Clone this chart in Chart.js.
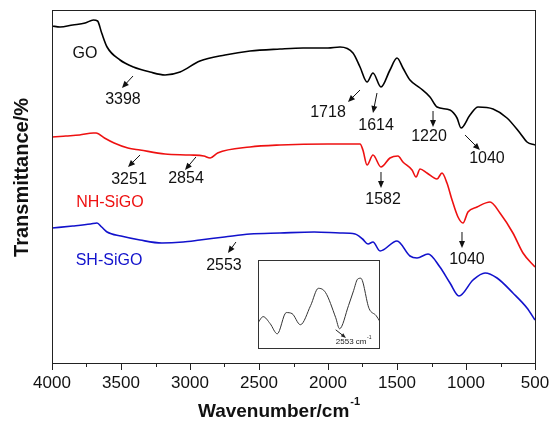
<!DOCTYPE html>
<html>
<head>
<meta charset="utf-8">
<script src="https://cdn.jsdelivr.net/npm/chart.js@4.4.0/dist/chart.umd.min.js"></script>
<style>
  body { margin: 0; background: #fff; }
  #wrap { position: relative; width: 553px; height: 426px; }
  #ftir { position: absolute; left: 0; top: 0; }
  #inset { position: absolute; left: 258px; top: 260px; }
</style>
</head>
<body>
<div id="wrap">
  <canvas id="ftir" width="553" height="426"></canvas>
  <canvas id="inset" width="122" height="89"></canvas>
</div>
<script>
// FTIR spectra, wavenumber (cm-1) against transmittance (arbitrary offset units)
const goWavenumber = [4000, 3942, 3850, 3760, 3700, 3670, 3640, 3601, 3507, 3410, 3290, 3181, 3072, 2928, 2746, 2565, 2348, 2181, 2000, 1913, 1819, 1768, 1717, 1674, 1616, 1551, 1500, 1457, 1406, 1333, 1261, 1210, 1116, 1065, 1036, 971, 913, 804, 703, 609, 558, 500];
const goT = [337, 336, 338, 340, 343, 342, 330, 316, 303, 296, 291, 288, 291, 302, 308, 312, 314, 315, 315, 316, 310, 296, 281, 290, 276, 293, 305, 295, 283, 275, 266, 256, 253, 245, 235, 248, 256, 254, 245, 230, 221, 218];

const nhWavenumber = [4000, 3900, 3800, 3700, 3680, 3620, 3550, 3450, 3362, 3181, 3000, 2900, 2854, 2800, 2565, 2348, 2000, 1913, 1768, 1747, 1717, 1674, 1616, 1551, 1493, 1457, 1391, 1362, 1333, 1283, 1210, 1174, 1138, 1101, 1058, 1022, 986, 920, 826, 754, 660, 587, 500];
const nhT = [226, 227, 228, 230, 230, 225, 220, 215, 213, 209, 208, 207, 205, 210, 216, 218, 219, 219, 219, 213, 198, 208, 196, 205, 207, 201, 193, 186, 194, 190, 184, 190, 180, 163, 146, 140, 151, 156, 161, 150, 130, 110, 96];

const shWavenumber = [4000, 3850, 3720, 3674, 3640, 3601, 3500, 3362, 3203, 3050, 2928, 2750, 2565, 2348, 2100, 1913, 1804, 1750, 1710, 1674, 1623, 1500, 1406, 1355, 1275, 1189, 1116, 1051, 949, 862, 775, 660, 558, 500];
const shT = [135, 137, 139, 140, 136, 131, 127, 123, 120, 121, 123, 126, 129, 130, 131, 130, 129, 124, 119, 121, 112, 122, 107, 105, 109, 96, 80, 67, 83, 90, 85, 70, 55, 43];

// zoomed S-H stretch region shown in the inset
const insetWavenumber = [2680, 2672, 2661, 2650, 2636, 2627, 2614, 2598, 2586, 2575, 2559, 2553, 2539, 2531, 2525, 2520, 2507, 2496, 2490];
const insetT = [26, 32, 25, 15, 36, 35, 24, 43, 60, 56, 31, 20, 43, 58, 69, 70, 40, 33, 27];

const xTicks = [4000, 3500, 3000, 2500, 2000, 1500, 1000, 500];
const xMinorTicks = [3750, 3250, 2750, 2250, 1750, 1250, 750];

const seriesNames = ['GO', 'NH-SiGO', 'SH-SiGO'];
const seriesColors = ['#000000', '#ee1111', '#1212cc'];

// peak labels: text position and arrow (tail -> head) in wavenumber / transmittance units
const peakNotes = [
  { text: 'GO', at: [3761, 309] },
  { text: 'NH-SiGO', at: [3580, 160], color: seriesColors[1] },
  { text: 'SH-SiGO', at: [3587, 102], color: seriesColors[2] },
  { text: '3398', at: [3486, 263], from: [3413, 287], to: [3493, 275] },
  { text: '3251', at: [3442, 183], from: [3362, 208], to: [3449, 196] },
  { text: '2854', at: [3029, 184], from: [2957, 206], to: [3036, 193] },
  { text: '2553', at: [2754, 97], from: [2667, 121], to: [2725, 110] },
  { text: '1718', at: [2000, 250], from: [1768, 273], to: [1855, 261] },
  { text: '1614', at: [1652, 237], from: [1645, 270], to: [1674, 250] },
  { text: '1220', at: [1268, 226], from: [1239, 252], to: [1239, 236] },
  { text: '1040', at: [848, 204], from: [1007, 228], to: [899, 213] },
  { text: '1582', at: [1601, 163], from: [1616, 191], to: [1616, 175] },
  { text: '1040', at: [993, 103], from: [1029, 131], to: [1029, 115] }
];

const FONT = '"Liberation Sans", Arial, sans-serif';

function toPoints(xs, ys) {
  return xs.map((x, i) => ({ x: x, y: ys[i] }));
}

function drawArrow(ctx, x1, y1, x2, y2, head, width) {
  const a = Math.atan2(y2 - y1, x2 - x1);
  ctx.beginPath();
  ctx.moveTo(x1, y1);
  ctx.lineTo(x2 - Math.cos(a) * head * 0.8, y2 - Math.sin(a) * head * 0.8);
  ctx.stroke();
  ctx.beginPath();
  ctx.moveTo(x2, y2);
  ctx.lineTo(x2 - head * Math.cos(a) + width * Math.sin(a), y2 - head * Math.sin(a) - width * Math.cos(a));
  ctx.lineTo(x2 - head * Math.cos(a) - width * Math.sin(a), y2 - head * Math.sin(a) + width * Math.cos(a));
  ctx.closePath();
  ctx.fill();
}

// box around the plot plus the short minor ticks on the wavenumber axis
const frame = {
  id: 'frame',
  afterDraw(chart) {
    const { ctx, chartArea, scales } = chart;
    ctx.save();
    ctx.strokeStyle = '#222';
    ctx.lineWidth = 1;
    ctx.strokeRect(chartArea.left + 0.5, chartArea.top + 0.5, chartArea.right - chartArea.left, chartArea.bottom - chartArea.top);
    ctx.beginPath();
    xMinorTicks.forEach(v => {
      const x = Math.round(scales.x.getPixelForValue(v)) + 0.5;
      ctx.moveTo(x, chartArea.bottom);
      ctx.lineTo(x, chartArea.bottom + 4);
    });
    ctx.stroke();
    ctx.restore();
  }
};

const notes = {
  id: 'notes',
  afterDatasetsDraw(chart) {
    const { ctx, scales } = chart;
    ctx.save();
    ctx.font = '16px ' + FONT;
    ctx.textAlign = 'center';
    ctx.textBaseline = 'middle';
    ctx.lineWidth = 1;
    peakNotes.forEach(n => {
      const c = n.color || '#111';
      ctx.fillStyle = c;
      ctx.strokeStyle = c;
      ctx.fillText(n.text, scales.x.getPixelForValue(n.at[0]), scales.y.getPixelForValue(n.at[1]));
      if (n.from) {
        drawArrow(ctx,
          scales.x.getPixelForValue(n.from[0]), scales.y.getPixelForValue(n.from[1]),
          scales.x.getPixelForValue(n.to[0]), scales.y.getPixelForValue(n.to[1]), 7, 3);
      }
    });
    ctx.restore();
  }
};

const axisTitles = {
  id: 'axisTitles',
  afterDraw(chart) {
    const { ctx, chartArea } = chart;
    ctx.save();
    ctx.fillStyle = '#111';
    // y title
    ctx.translate(22, (chartArea.top + chartArea.bottom) / 2 - 9);
    ctx.rotate(-Math.PI / 2);
    ctx.font = 'bold 20px ' + FONT;
    ctx.textAlign = 'center';
    ctx.textBaseline = 'middle';
    ctx.fillText('Transmittance/%', 0, 0);
    ctx.setTransform(1, 0, 0, 1, 0, 0);
    // x title with superscript
    const main = 'Wavenumber/cm';
    const sup = '-1';
    ctx.font = 'bold 19px ' + FONT;
    const w = ctx.measureText(main).width;
    ctx.font = 'bold 11px ' + FONT;
    const sw = ctx.measureText(sup).width;
    const cx = (chartArea.left + chartArea.right) / 2 - 15;
    const x0 = cx - (w + sw) / 2;
    ctx.textAlign = 'left';
    ctx.textBaseline = 'alphabetic';
    ctx.font = 'bold 19px ' + FONT;
    ctx.fillText(main, x0, 417);
    ctx.font = 'bold 11px ' + FONT;
    ctx.fillText(sup, x0 + w + 1, 405);
    ctx.restore();
  }
};

new Chart(document.getElementById('ftir'), {
  type: 'line',
  data: {
    datasets: [
      { label: seriesNames[0], data: toPoints(goWavenumber, goT), borderColor: seriesColors[0] },
      { label: seriesNames[1], data: toPoints(nhWavenumber, nhT), borderColor: seriesColors[1] },
      { label: seriesNames[2], data: toPoints(shWavenumber, shT), borderColor: seriesColors[2] }
    ]
  },
  options: {
    responsive: false,
    animation: false,
    layout: { padding: { top: 10, right: 18, left: 0, bottom: 0 } },
    elements: {
      point: { radius: 0 },
      line: { borderWidth: 1.6, cubicInterpolationMode: 'monotone' }
    },
    plugins: { legend: { display: false }, tooltip: { enabled: false } },
    scales: {
      x: {
        type: 'linear',
        reverse: true,
        min: 500,
        max: 4000,
        afterBuildTicks: scale => {
          scale.ticks = xTicks.map(v => ({ value: v }));
        },
        afterFit: scale => { scale.height = 63; },
        ticks: {
          autoSkip: false,
          maxRotation: 0,
          padding: 3,
          color: '#111',
          font: { family: FONT, size: 17 },
          callback: v => String(v)
        },
        grid: {
          drawOnChartArea: false,
          drawTicks: true,
          tickLength: 7,
          tickColor: '#222'
        },
        border: { display: true, color: '#222', width: 1 }
      },
      y: {
        min: 0,
        max: 353,
        afterFit: scale => { scale.width = 52; },
        ticks: { display: false },
        grid: { display: false, drawTicks: false },
        border: { display: true, color: '#222', width: 1 }
      }
    }
  },
  plugins: [frame, notes, axisTitles]
});

// inset: S-H band close-up
const insetNote = {
  id: 'insetNote',
  afterDraw(chart) {
    const { ctx, scales } = chart;
    ctx.save();
    ctx.strokeStyle = '#333';
    ctx.lineWidth = 1;
    ctx.strokeRect(0.5, 0.5, chart.width - 1, chart.height - 1);
    ctx.fillStyle = '#222';
    ctx.strokeStyle = '#222';
    drawArrow(ctx, scales.x.getPixelForValue(2559), scales.y.getPixelForValue(19),
      scales.x.getPixelForValue(2543), scales.y.getPixelForValue(11), 5, 2);
    const tx = scales.x.getPixelForValue(2531);
    const ty = scales.y.getPixelForValue(7);
    ctx.font = '8px ' + FONT;
    ctx.textBaseline = 'middle';
    ctx.textAlign = 'left';
    const label = '2553 cm';
    const lw = ctx.measureText(label).width;
    const x0 = tx - (lw + 5) / 2;
    ctx.fillText(label, x0, ty);
    ctx.font = '5px ' + FONT;
    ctx.fillText('-1', x0 + lw + 0.5, ty - 4);
    ctx.restore();
  }
};

new Chart(document.getElementById('inset'), {
  type: 'line',
  data: {
    datasets: [{ data: toPoints(insetWavenumber, insetT), borderColor: '#333', borderWidth: 1 }]
  },
  options: {
    responsive: false,
    animation: false,
    layout: { padding: 0 },
    elements: { point: { radius: 0 }, line: { cubicInterpolationMode: 'monotone' } },
    plugins: { legend: { display: false }, tooltip: { enabled: false } },
    scales: {
      x: { type: 'linear', reverse: true, min: 2490, max: 2680, display: false },
      y: { min: 0, max: 88, display: false }
    }
  },
  plugins: [insetNote]
});
</script>
</body>
</html>
